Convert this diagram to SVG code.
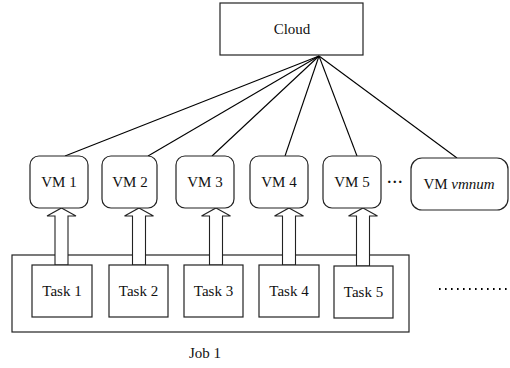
<svg xmlns="http://www.w3.org/2000/svg" width="510" height="368" viewBox="0 0 510 368">
<style>
.t{font-family:"Liberation Serif",serif;font-size:15px;fill:#111;text-anchor:middle}
.box{fill:#fff;stroke:#222;stroke-width:1.2}
.vm{fill:#fff;stroke:#222;stroke-width:1.2}
.con{stroke:#000;stroke-width:1.1;fill:none}
.arr{fill:#fff;stroke:#222;stroke-width:1.1;stroke-linejoin:miter}
</style>
<rect width="510" height="368" fill="#fff"/>
<g id="job1">
<rect class="box" x="12" y="255" width="397" height="77"/>
<text class="t" style="font-family:'Liberation Serif',serif" x="205" y="358">Job 1</text>
</g>
<g id="connectors">
<line class="con" x1="319" y1="56" x2="65" y2="156"/>
<line class="con" x1="319" y1="56" x2="148" y2="156"/>
<line class="con" x1="319" y1="56" x2="212" y2="156"/>
<line class="con" x1="319" y1="56" x2="285" y2="156"/>
<line class="con" x1="319" y1="56" x2="357" y2="156"/>
<line class="con" x1="319" y1="56" x2="457" y2="158"/>
<polygon class="arr" points="61.5,208 76,216 68,216 68,265 55,265 55,216 47,216"/>
<polygon class="arr" points="139,208 153.5,216 145.5,216 145.5,265 132.5,265 132.5,216 124.5,216"/>
<polygon class="arr" points="216,208 230.5,216 222.5,216 222.5,265 209.5,265 209.5,216 201.5,216"/>
<polygon class="arr" points="289,208 303.5,216 295.5,216 295.5,265 282.5,265 282.5,216 274.5,216"/>
<polygon class="arr" points="363,208 377.5,216 369.5,216 369.5,266 356.5,266 356.5,216 348.5,216"/>
<line stroke="#000" stroke-width="2" stroke-dasharray="1.6 4.4" x1="439" y1="289" x2="510" y2="289"/>
</g>
<g id="cloud">
<rect class="box" x="220" y="3" width="143" height="52"/>
<text class="t" style="font-family:'Liberation Serif',serif" x="292" y="34">Cloud</text>
</g>
<g id="vm1"><rect class="vm" x="30" y="156" width="58" height="52" rx="9"/><text class="t" style="font-family:'Liberation Serif',serif" x="59" y="187">VM 1</text></g>
<g id="vm2"><rect class="vm" x="102" y="156" width="55" height="52" rx="9"/><text class="t" style="font-family:'Liberation Serif',serif" x="130" y="187">VM 2</text></g>
<g id="vm3"><rect class="vm" x="176" y="156" width="58" height="52" rx="9"/><text class="t" style="font-family:'Liberation Serif',serif" x="205" y="187">VM 3</text></g>
<g id="vm4"><rect class="vm" x="250" y="156" width="58" height="52" rx="9"/><text class="t" style="font-family:'Liberation Serif',serif" x="279" y="187">VM 4</text></g>
<g id="vm5"><rect class="vm" x="323" y="156" width="58" height="52" rx="9"/><text class="t" style="font-family:'Liberation Serif',serif" x="352" y="187">VM 5</text></g>
<text class="t" x="395" y="187" letter-spacing="0.5" style="font-family:'Liberation Serif',serif;font-weight:bold">···</text>
<g id="vmvmnum"><rect class="vm" x="411" y="158" width="97" height="52" rx="11"/><text class="t" style="font-family:'Liberation Serif',serif" x="459" y="189">VM <tspan font-style="italic">vmnum</tspan></text></g>
<g id="task1"><rect class="box" x="32" y="265" width="60" height="52"/><text class="t" style="font-family:'Liberation Serif',serif" x="62" y="296">Task 1</text></g>
<g id="task2"><rect class="box" x="109" y="265" width="59" height="52"/><text class="t" style="font-family:'Liberation Serif',serif" x="138.5" y="296">Task 2</text></g>
<g id="task3"><rect class="box" x="184" y="265" width="59" height="52"/><text class="t" style="font-family:'Liberation Serif',serif" x="213.5" y="296">Task 3</text></g>
<g id="task4"><rect class="box" x="259" y="265" width="60" height="52"/><text class="t" style="font-family:'Liberation Serif',serif" x="289" y="296">Task 4</text></g>
<g id="task5"><rect class="box" x="334" y="266" width="59" height="52"/><text class="t" style="font-family:'Liberation Serif',serif" x="363.5" y="297">Task 5</text></g>
</svg>
